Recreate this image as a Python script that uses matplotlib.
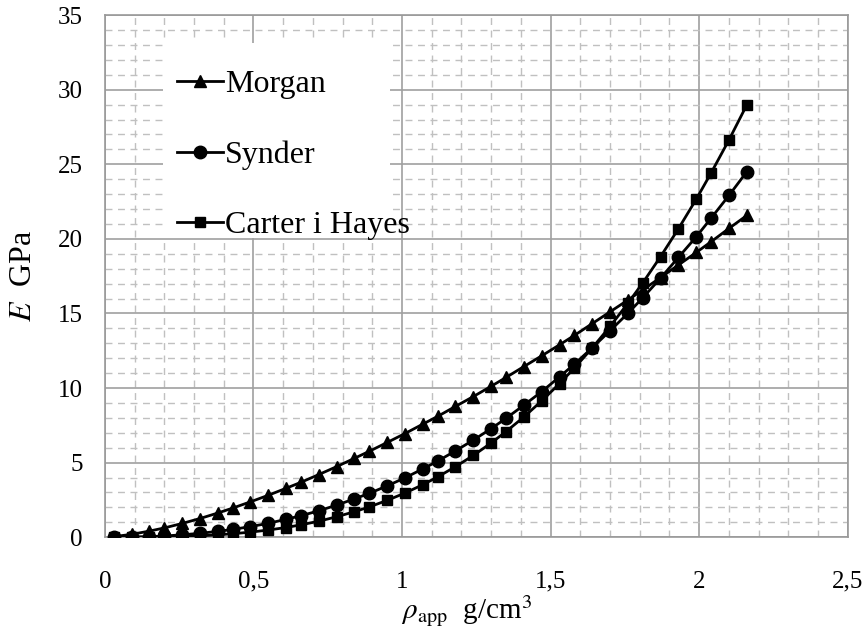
import matplotlib.pyplot as plt
from matplotlib.patches import Rectangle
from matplotlib.ticker import MultipleLocator, FuncFormatter

plt.rcParams['font.family'] = 'Liberation Serif'
plt.rcParams['mathtext.fontset'] = 'stix'

# Gestosc pozorna (g/cm3)
rho = [0.03, 0.09, 0.15, 0.20, 0.26, 0.32, 0.38, 0.43, 0.49, 0.55,
       0.61, 0.66, 0.72, 0.78, 0.84, 0.89, 0.95, 1.01, 1.07, 1.12,
       1.18, 1.24, 1.30, 1.35, 1.41, 1.47, 1.53, 1.58, 1.64, 1.70,
       1.76, 1.81, 1.87, 1.93, 1.99, 2.04, 2.10, 2.16]

# Modul Younga (GPa)
morgan = [0.04, 0.19, 0.41, 0.62, 0.92, 1.25, 1.62, 1.95, 2.37, 2.81,
          3.28, 3.68, 4.20, 4.73, 5.29, 5.76, 6.35, 6.95, 7.58, 8.10,
          8.77, 9.43, 10.12, 10.71, 11.44, 12.16, 12.90, 13.53, 14.32, 15.11,
          15.90, 16.58, 17.41, 18.25, 19.09, 19.81, 20.70, 21.57]
synder = [0.00, 0.01, 0.04, 0.08, 0.16, 0.26, 0.39, 0.52, 0.71, 0.93,
          1.20, 1.44, 1.77, 2.15, 2.57, 2.94, 3.44, 3.98, 4.58, 5.10,
          5.79, 6.51, 7.28, 7.97, 8.85, 9.76, 10.75, 11.60, 12.70, 13.84,
          15.01, 16.05, 17.37, 18.76, 20.14, 21.39, 22.91, 24.50]
carter = [0.00, 0.00, 0.01, 0.02, 0.05, 0.09, 0.16, 0.23, 0.34, 0.48,
          0.65, 0.83, 1.07, 1.37, 1.71, 2.03, 2.47, 2.96, 3.52, 4.04,
          4.73, 5.48, 6.32, 7.08, 8.06, 9.14, 10.30, 11.34, 12.69, 14.13,
          15.68, 17.05, 18.81, 20.68, 22.66, 24.42, 26.63, 28.98]

fig = plt.figure(figsize=(8.66, 6.32), dpi=100)
ax = fig.add_axes([0.121, 0.150, 0.858, 0.826])

ax.plot(rho, morgan, color='black', lw=2, marker='^', ms=9, label='Morgan', zorder=3)
ax.plot(rho, synder, color='black', lw=2, marker='o', ms=9, label='Synder', zorder=3)
ax.plot(rho, carter, color='black', lw=2, marker='s', ms=6.5, label='Carter i Hayes', zorder=3)

ax.set_xlim(0, 2.5)
ax.set_ylim(0, 35)
ax.xaxis.set_major_locator(MultipleLocator(0.5))
ax.xaxis.set_minor_locator(MultipleLocator(0.1))
ax.yaxis.set_major_locator(MultipleLocator(5))
ax.yaxis.set_minor_locator(MultipleLocator(1))
ax.xaxis.set_major_formatter(FuncFormatter(lambda v, p: f'{v:g}'.replace('.', ',')))

ax.grid(which='major', color='#a0a0a0', lw=1.2, ls='-')
ax.grid(which='minor', color='#c0c0c0', lw=1, ls=(0, (5, 4)))
ax.set_axisbelow(True)
ax.tick_params(which='both', length=0, labelsize=18)
ax.tick_params(axis='y', pad=16)
ax.tick_params(axis='x', pad=24)
for s in ax.spines.values():
    s.set_color('#999999')
    s.set_linewidth(1.2)

ax.set_xlabel(r'$\rho$$_{\mathrm{app}}$  g/cm$^3$', fontsize=21)
ax.xaxis.set_label_coords(0.487, -0.108)
ax.set_ylabel(r'$E$  GPa', fontsize=23, labelpad=14)

# biale tlo pod legenda
ax.add_patch(Rectangle((0.078, 0.573), 0.306, 0.373, transform=ax.transAxes,
                       facecolor='white', edgecolor='none', zorder=2))
leg = ax.legend(loc='upper left', bbox_to_anchor=(0.097, 0.895), fontsize=23,
                frameon=False, labelspacing=1.28, handlelength=1.45,
                handletextpad=0.05, borderpad=0, borderaxespad=0)

plt.savefig('out.png', dpi=100)
